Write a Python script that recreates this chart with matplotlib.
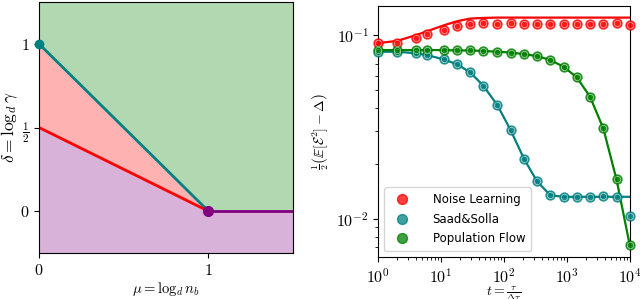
import numpy as np
import matplotlib
matplotlib.use("Agg")
import matplotlib.pyplot as plt

plt.rcParams['mathtext.fontset'] = 'cm'
plt.rcParams['font.size'] = 10
plt.rcParams['xtick.labelsize'] = 11.5
plt.rcParams['ytick.labelsize'] = 11.5

# left panel: phase diagram boundaries
mu_line = [0.0, 1.0]
delta_teal = [1.0, 0.0]
delta_red = [0.5, 0.0]
mu_flat = [1.0, 1.5]
delta_flat = [0.0, 0.0]

# right panel: error curves
t_pts = [1, 2, 4, 6, 11, 18, 29, 47, 78, 127, 207, 336, 545, 885, 1438, 2335, 3793, 6158, 10000]
noise_pts = [0.0902, 0.0902, 0.0959, 0.1009, 0.1065, 0.1123, 0.1143, 0.1158, 0.1148, 0.1158,
             0.1148, 0.1148, 0.1148, 0.1148, 0.1148, 0.1148, 0.1148, 0.1158, 0.1138]
noise_line = [0.0905, 0.093, 0.100, 0.105, 0.113, 0.119, 0.123, 0.124, 0.1245, 0.1245,
              0.1245, 0.1245, 0.1245, 0.1245, 0.1245, 0.1245, 0.1245, 0.1245, 0.1245]
saad_pts = [0.0812, 0.0812, 0.0796, 0.0778, 0.0738, 0.0693, 0.0627, 0.0530, 0.0417, 0.0305,
            0.0213, 0.0160, 0.01345, 0.0132, 0.0132, 0.0132, 0.0133, 0.0132, 0.0104]
saad_line = [0.0812, 0.0812, 0.0796, 0.0778, 0.0738, 0.0693, 0.0627, 0.0530, 0.0417, 0.0305,
             0.0213, 0.0160, 0.01345, 0.0132, 0.0132, 0.0132, 0.0132, 0.0132, 0.0132]
pop_pts = [0.0829, 0.0829, 0.0829, 0.0829, 0.0829, 0.0825, 0.0825, 0.0820, 0.0812, 0.0804,
           0.0788, 0.0769, 0.0732, 0.0673, 0.0589, 0.0462, 0.0311, 0.0164, 0.0072]

x_major = [1, 10, 100, 1000, 10000]
x_major_labels = ['$10^{0}$', '$10^{1}$', '$10^{2}$', '$10^{3}$', '$10^{4}$']
y_major = [0.01, 0.1]
y_major_labels = ['$10^{-2}$', '$10^{-1}$']

fig = plt.figure(figsize=(6.4, 2.99), dpi=100)
ax1 = fig.add_axes([0.061, 0.154, 0.397, 0.839])
ax2 = fig.add_axes([0.591, 0.140, 0.393, 0.840])

# --- phase diagram
x_all = [0.0, 1.0, 1.5]
ax1.fill_between(x_all, [1.0, 0.0, 0.0], 1.25, color='green', alpha=0.3, lw=0)
ax1.fill_between(mu_line, delta_red, delta_teal, color='red', alpha=0.3, lw=0)
ax1.fill_between(x_all, -0.25, [0.5, 0.0, 0.0], color='purple', alpha=0.3, lw=0)
ax1.plot(mu_line, delta_teal, color='teal', lw=2)
ax1.plot(mu_line, delta_red, color='red', lw=2)
ax1.plot(mu_flat, delta_flat, color='purple', lw=2)
ax1.plot([0], [1], 'o', color='teal', ms=6, clip_on=False, zorder=5)
ax1.plot([1], [0], 'o', color='purple', ms=7, zorder=5)
ax1.set_xlim(0, 1.5)
ax1.set_ylim(-0.25, 1.25)
ax1.set_xticks([0, 1])
ax1.set_xticklabels(['$0$', '$1$'])
ax1.set_yticks([0, 0.5, 1])
ax1.set_yticklabels(['$0$', r'$\frac{1}{2}$', '$1$'])
ax1.set_xlabel(r'$\mu = \log_d n_b$', fontsize=10.5, labelpad=2)
ax1.set_ylabel(r'$\delta = \log_d \gamma$', fontsize=12.5, labelpad=0)

# --- error curves
series = [
    ('Noise Learning', 'red', noise_pts, noise_line),
    ('Saad&Solla', 'teal', saad_pts, saad_line),
    ('Population Flow', 'green', pop_pts, pop_pts),
]
handles = []
for name, col, pts, line in series:
    ax2.plot(t_pts, line, color=col, lw=1.6, zorder=2)
    h, = ax2.plot(t_pts, pts, 'o', color=col, ms=6.5, alpha=0.75, mec=col, zorder=3,
                  clip_on=False, label=name)
    ax2.plot(t_pts, pts, 'o', mfc=col, mec='white', mew=0.5, ms=4.5, alpha=0.6, zorder=4,
             clip_on=False)
    handles.append(h)

ax2.set_xscale('log')
ax2.set_yscale('log')
ax2.set_xlim(1, 1e4)
ax2.set_ylim(0.0062, 0.144)
ax2.set_xticks(x_major)
ax2.set_xticklabels(x_major_labels)
ax2.set_yticks(y_major)
ax2.set_yticklabels(y_major_labels)
ax2.set_xlabel(r'$t = \frac{\tau}{\Delta\tau}$', fontsize=10, labelpad=-1)
ax2.set_ylabel(r'$\frac{1}{2}\left(\mathbb{E}[\mathcal{E}^2] - \Delta\right)$')
ax2.legend(handles=handles, loc='lower left', fontsize=8.5, handletextpad=1.6,
           borderpad=0.5, labelspacing=0.55, markerscale=1.1)

fig.savefig('out.png', dpi=100)
